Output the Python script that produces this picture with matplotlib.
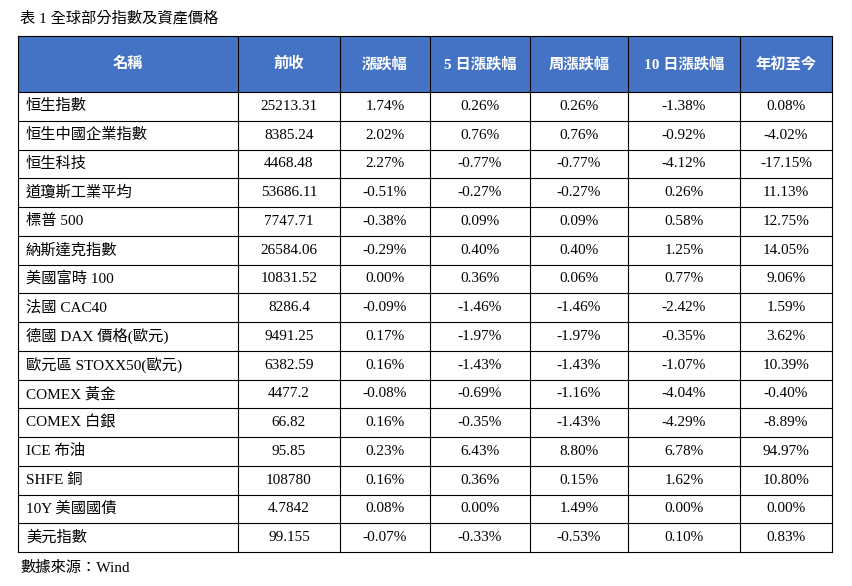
import matplotlib
matplotlib.use("Agg")
import matplotlib.pyplot as plt
from matplotlib.patches import Rectangle

FONT = ['Liberation Serif', 'Noto Sans CJK TC']

title = "表 1 全球部分指數及資產價格"
source = "數據來源：Wind"
headers = ["名稱", "前收", "漲跌幅", "5 日漲跌幅", "周漲跌幅", "10 日漲跌幅", "年初至今"]
names = ["恒生指數", "恒生中國企業指數", "恒生科技", "道瓊斯工業平均", "標普 500", "納斯達克指數",
         "美國富時 100", "法國 CAC40", "德國 DAX 價格(歐元)", "歐元區 STOXX50(歐元)", "COMEX 黃金",
         "COMEX 白銀", "ICE 布油", "SHFE 銅", "10Y 美國國債", "美元指數"]
prev_close = ["25213.31", "8385.24", "4468.48", "53686.11", "7747.71", "26584.06", "10831.52",
              "8286.4", "9491.25", "6382.59", "4477.2", "66.82", "95.85", "108780", "4.7842", "99.155"]
chg = ["1.74%", "2.02%", "2.27%", "-0.51%", "-0.38%", "-0.29%", "0.00%", "-0.09%", "0.17%",
       "0.16%", "-0.08%", "0.16%", "0.23%", "0.16%", "0.08%", "-0.07%"]
chg_5d = ["0.26%", "0.76%", "-0.77%", "-0.27%", "0.09%", "0.40%", "0.36%", "-1.46%", "-1.97%",
          "-1.43%", "-0.69%", "-0.35%", "6.43%", "0.36%", "0.00%", "-0.33%"]
chg_week = ["0.26%", "0.76%", "-0.77%", "-0.27%", "0.09%", "0.40%", "0.06%", "-1.46%", "-1.97%",
            "-1.43%", "-1.16%", "-1.43%", "8.80%", "0.15%", "1.49%", "-0.53%"]
chg_10d = ["-1.38%", "-0.92%", "-4.12%", "0.26%", "0.58%", "1.25%", "0.77%", "-2.42%", "-0.35%",
           "-1.07%", "-4.04%", "-4.29%", "6.78%", "1.62%", "0.00%", "0.10%"]
ytd = ["0.08%", "-4.02%", "-17.15%", "11.13%", "12.75%", "14.05%", "9.06%", "1.59%", "3.62%",
       "10.39%", "-0.40%", "-8.89%", "94.97%", "10.80%", "0.00%", "0.83%"]

columns = [names, prev_close, chg, chg_5d, chg_week, chg_10d, ytd]
col_edges = [18, 238, 340, 430, 530, 628, 740, 832]
top, head_bot, bottom = 36, 92, 552
row_h = (bottom - head_bot) / len(names)

fig = plt.figure(figsize=(8.52, 5.86), dpi=100)
ax = fig.add_axes([0, 0, 1, 1])
ax.set_xlim(0, 852)
ax.set_ylim(586, 0)
ax.axis("off")

ax.text(20, 18, title, family=FONT, fontsize=11, va="center", ha="left")
ax.add_patch(Rectangle((col_edges[0], top), col_edges[-1] - col_edges[0], head_bot - top,
                       facecolor="#4472C4", edgecolor="none"))

for j, h in enumerate(headers):
    cx = (col_edges[j] + col_edges[j + 1]) / 2
    ax.text(cx, (top + head_bot) / 2, h, family=FONT, fontsize=11, color="white",
            fontweight="bold", ha="center", va="center")

for i in range(len(names)):
    cy = head_bot + (i + 0.5) * row_h
    for j, col in enumerate(columns):
        if j == 0:
            ax.text(col_edges[0] + 8, cy, col[i], family=FONT, fontsize=11, ha="left", va="center")
        else:
            cx = (col_edges[j] + col_edges[j + 1]) / 2
            ax.text(cx, cy, col[i], family=FONT, fontsize=11, ha="center", va="center")

# grid lines
for x in col_edges:
    ax.plot([x, x], [top, bottom], color="black", lw=0.8)
ax.plot([col_edges[0], col_edges[-1]], [top, top], color="black", lw=0.8)
for i in range(len(names) + 1):
    y = head_bot + i * row_h
    ax.plot([col_edges[0], col_edges[-1]], [y, y], color="black", lw=0.8)

ax.text(20, 568, source, family=FONT, fontsize=11, va="center", ha="left")

fig.savefig("out.png", dpi=100)
